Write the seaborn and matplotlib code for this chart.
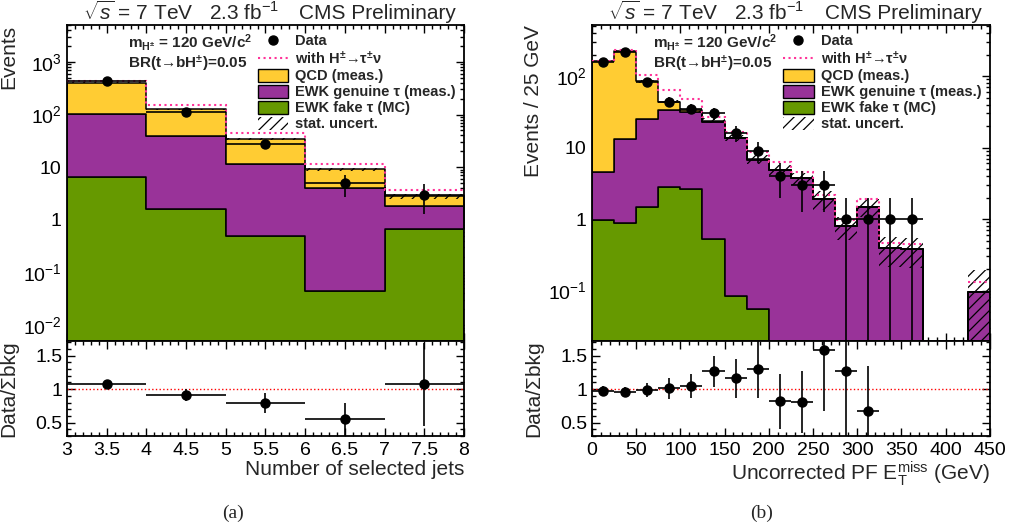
import numpy as np
import pandas as pd
import seaborn as sns
import matplotlib
matplotlib.use("Agg")
import matplotlib.pyplot as plt
from matplotlib.lines import Line2D
from matplotlib.patches import Patch
from matplotlib.ticker import MultipleLocator, FixedLocator, LogLocator, NullFormatter, FuncFormatter

# ---- (a) number of selected jets ----
JET_EDGES = [3, 4, 5, 6, 7, 8]
JET_FAKE = [6.5, 1.6, 0.49, 0.044, 0.67]
JET_GENUINE = [96, 38, 10.8, 4.06, 1.2]
JET_QCD = [302, 85, 22.7, 5.0, 0.93]
JET_SIGNAL = [430, 153, 45, 11.3, 3.7]      # bkg + H+ -> tau nu
JET_STAT = [0.02, 0.03, 0.05, 0.06, 0.10]   # relative stat. uncertainty
JET_DATA = [436, 114, 27, 5, 3]

# ---- (b) uncorrected PF MET, 25 GeV bins ----
MET_EDGES = list(range(0, 451, 25))
MET_FAKE = [0.97, 0.89, 1.49, 2.83, 2.6, 0.52, 0.085, 0.056, 0, 0, 0, 0, 0, 0, 0, 0, 0, 0]
MET_GENUINE = [3.63, 12.1, 23.5, 30.2, 28.4, 22.5, 13.5, 6.74, 4.9, 3.7, 1.9, 0.79, 1.49,
               0.39, 0.376, 0, 0, 0.096]
MET_QCD = [155.4, 209, 59, 10.5, 2.5, 0.6, 0.2, 0.1, 0, 0, 0, 0, 0, 0, 0, 0, 0, 0]
MET_SIGNAL = [165, 235, 102, 63, 48, 26.5, 16.5, 8.6, 6.3, 4.5, 2.2, 0.97, 1.92, 0.47, 0.45,
              0, 0, 0.13]
MET_STAT = [0.03, 0.03, 0.04, 0.05, 0.06, 0.08, 0.1, 0.14, 0.15, 0.2, 0.3, 0.35, 0.28,
            0.45, 0.45, 0, 0, 1.0]
MET_DATA = [155, 214, 83, 44, 35, 30, 16, 9, 4, 3, 3, 1, 1, 1, 1, 0, 0, 0]

COMPONENTS = ["QCD (meas.)", "EWK genuine τ (meas.)", "EWK fake τ (MC)"]
COLORS = {"QCD (meas.)": "#FFCC33", "EWK genuine τ (meas.)": "#993399",
          "EWK fake τ (MC)": "#669900"}
PINK = "#FF3399"

sns.set_theme(style="ticks")
plt.rcParams["font.family"] = ["Liberation Sans", "DejaVu Sans"]
plt.rcParams.update({
    "mathtext.fontset": "custom",
    "mathtext.rm": "Liberation Sans",
    "mathtext.it": "Liberation Sans:italic",
    "mathtext.bf": "Liberation Sans:bold",
    "xtick.direction": "in", "ytick.direction": "in",
    "xtick.top": True, "ytick.right": True,
    "xtick.major.size": 6, "ytick.major.size": 6,
    "xtick.minor.size": 3, "ytick.minor.size": 3,
    "xtick.major.width": 1, "ytick.major.width": 1,
    "xtick.minor.width": 1, "ytick.minor.width": 1,
    "xtick.color": "black", "ytick.color": "black",
    "axes.edgecolor": "black", "axes.linewidth": 1.3,
    "hatch.linewidth": 0.9,
})


def log_label(v, pos):
    labels = {1e-2: r"$10^{-2}$", 1e-1: r"$10^{-1}$", 1: "1", 10: "10",
              1e2: r"$10^{2}$", 1e3: r"$10^{3}$"}
    for k, s in labels.items():
        if np.isclose(v, k):
            return s
    return ""


def draw_panel(ax, rax, edges, fake, genuine, qcd, signal, stat, data, ylim, xmaj, xmin_):
    bins = list(edges)
    edges = np.array(edges, dtype=float)
    centers = 0.5 * (edges[1:] + edges[:-1])
    half = 0.5 * np.diff(edges)
    rows = []
    for name, vals in zip(COMPONENTS, [qcd, genuine, fake]):
        for c, v in zip(centers, vals):
            rows.append({"x": c, "w": v, "comp": name})
    df = pd.DataFrame(rows)
    ax.set_yscale("log")
    sns.histplot(data=df, x="x", weights="w", hue="comp", hue_order=COMPONENTS,
                 multiple="stack", bins=bins, element="step", palette=COLORS,
                 edgecolor="black", linewidth=1.1, alpha=1, legend=False, ax=ax)

    total = np.array(fake) + np.array(genuine) + np.array(qcd)
    err = total * np.array(stat)
    ax.stairs(total + err, edges, baseline=np.clip(total - err, 1e-6, None), fill=True,
              facecolor="none", edgecolor="black", hatch="///", linewidth=0, zorder=3)
    sig = np.where(np.array(signal) > 0, signal, np.nan)
    ax.stairs(sig, edges, baseline=None, color=PINK, linestyle=":", linewidth=1.5, zorder=4)

    data = np.array(data, dtype=float)
    m = data > 0
    ax.errorbar(centers[m], data[m], xerr=half[m], yerr=np.sqrt(data[m]), fmt="o",
                color="black", markersize=6.5, elinewidth=1.2, capsize=0, zorder=5)

    ax.set_ylim(*ylim)
    ax.set_xlim(edges[0], edges[-1])
    ax.yaxis.set_major_locator(LogLocator(base=10, numticks=20))
    ax.yaxis.set_minor_locator(LogLocator(base=10, subs=np.arange(2, 10), numticks=20))
    ax.yaxis.set_major_formatter(FuncFormatter(log_label))
    ax.yaxis.set_minor_formatter(NullFormatter())
    ax.xaxis.set_major_locator(MultipleLocator(xmaj))
    ax.xaxis.set_minor_locator(MultipleLocator(xmin_))
    ax.tick_params(axis="x", which="both", labelbottom=False)
    ax.tick_params(axis="y", labelsize=14, pad=4)
    ax.set_xlabel("")

    # ratio
    ratio = np.full_like(data, np.nan)
    rerr = np.full_like(data, np.nan)
    ok = (data > 0) & (total > 0)
    ratio[ok] = data[ok] / total[ok]
    rerr[ok] = np.sqrt(data[ok]) / total[ok]
    ok &= (ratio < 1.72)
    rax.axhline(1.0, color="red", linestyle=":", linewidth=1)
    rax.errorbar(centers[ok], ratio[ok], xerr=half[ok], yerr=rerr[ok], fmt="o",
                 color="black", markersize=6.5, elinewidth=1.2, capsize=0, zorder=5)
    rax.set_xlim(edges[0], edges[-1])
    rax.set_ylim(0.3, 1.72)
    rax.yaxis.set_major_locator(FixedLocator([0.5, 1.0, 1.5]))
    rax.yaxis.set_major_formatter(FuncFormatter(lambda v, p: "1" if np.isclose(v, 1) else f"{v:g}"))
    rax.yaxis.set_minor_locator(MultipleLocator(0.1))
    rax.xaxis.set_major_locator(MultipleLocator(xmaj))
    rax.xaxis.set_minor_locator(MultipleLocator(xmin_))
    rax.xaxis.set_major_formatter(FuncFormatter(lambda v, p: f"{v:g}"))
    rax.tick_params(axis="both", labelsize=14)
    rax.tick_params(axis="x", pad=4)
    rax.set_ylabel("Data/Σbkg", fontsize=15)
    rax.yaxis.set_label_coords(-0.123, 0.5)

    handles = [
        Line2D([], [], marker="o", color="black", linestyle="none", markersize=6.5),
        Line2D([], [], color=PINK, linestyle=":", linewidth=1.5),
        Patch(facecolor=COLORS[COMPONENTS[0]], edgecolor="black", linewidth=1),
        Patch(facecolor=COLORS[COMPONENTS[1]], edgecolor="black", linewidth=1),
        Patch(facecolor=COLORS[COMPONENTS[2]], edgecolor="black", linewidth=1),
        Patch(facecolor="none", edgecolor="black", hatch="///", linewidth=0),
    ]
    labels = ["Data", r"with H$^{\mathbf{\pm}}$→τ$^{\mathbf{\pm}}$ν"] + COMPONENTS + ["stat. uncert."]
    ax.legend(handles, labels, loc="upper left", bbox_to_anchor=(0.48, 0.972),
              frameon=False, prop={"weight": "bold", "size": 10.5}, handlelength=2.1,
              handleheight=1.0, labelspacing=0.1, handletextpad=0.5, borderpad=0,
              borderaxespad=0)
    ax.text(0.153, 0.946, r"$\mathbf{m_{H^{\pm}}}$ = 120 GeV/c$^{\mathbf{2}}$",
            transform=ax.transAxes, fontsize=11, fontweight="bold", va="center")
    ax.text(0.153, 0.876, r"BR(t→bH$^{\mathbf{\pm}}$)=0.05",
            transform=ax.transAxes, fontsize=11, fontweight="bold", va="center")
    ax.text(0.04, 1.005, r"$\sqrt{s}$ = 7 TeV   2.3 fb$^{-1}$", transform=ax.transAxes,
            fontsize=15, va="bottom", ha="left")
    ax.text(0.98, 1.005, "CMS Preliminary", transform=ax.transAxes,
            fontsize=15, va="bottom", ha="right")


fig = plt.figure(figsize=(10.12, 5.31), dpi=100)
ax1 = fig.add_axes([0.0662, 0.3578, 0.3923, 0.595])
r1 = fig.add_axes([0.0662, 0.1789, 0.3923, 0.1789])
ax2 = fig.add_axes([0.585, 0.3578, 0.393, 0.595])
r2 = fig.add_axes([0.585, 0.1789, 0.393, 0.1789])

draw_panel(ax1, r1, JET_EDGES, JET_FAKE, JET_GENUINE, JET_QCD, JET_SIGNAL, JET_STAT,
           JET_DATA, (0.005, 5000), 0.5, 0.1)
draw_panel(ax2, r2, MET_EDGES, MET_FAKE, MET_GENUINE, MET_QCD, MET_SIGNAL, MET_STAT,
           MET_DATA, (0.0197, 517), 50, 10)

ax1.set_ylabel("Events", fontsize=15, loc="top")
ax1.yaxis.set_label_coords(-0.123, 1.0)
ax2.set_ylabel("Events / 25 GeV", fontsize=15, loc="top")
ax2.yaxis.set_label_coords(-0.123, 1.0)
r1.set_xlabel("Number of selected jets", fontsize=15, loc="right")
r1.xaxis.set_label_coords(1.0, -0.25)
r2.set_xlabel(r"Uncorrected PF E$_{\rm T}^{\rm miss}$ (GeV)", fontsize=15, loc="right")
r2.xaxis.set_label_coords(1.0, -0.25)

fig.text(0.230, 0.034, "(a)", fontsize=14, family="Liberation Serif", ha="center", va="center")
fig.text(0.753, 0.034, "(b)", fontsize=14, family="Liberation Serif", ha="center", va="center")

fig.savefig("out.png", dpi=100)
